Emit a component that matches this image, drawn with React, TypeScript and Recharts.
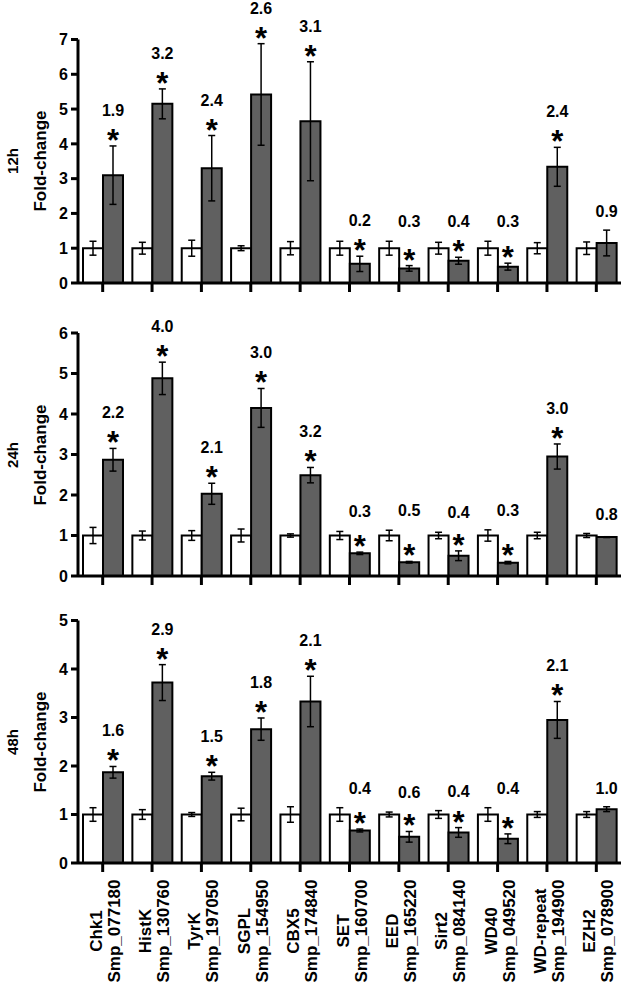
import { BarChart, Bar, XAxis, YAxis, ErrorBar, LabelList } from "recharts";

const FONT = "'Liberation Sans', Arial, Helvetica, sans-serif";

const genes = ["Chk1", "HistK", "TyrK", "SGPL", "CBX5", "SET", "EED", "Sirt2", "WD40", "WD-repeat", "EZH2"];
const geneIds = [
  "Smp_077180", "Smp_130760", "Smp_197050", "Smp_154950", "Smp_174840", "Smp_160700",
  "Smp_165220", "Smp_084140", "Smp_049520", "Smp_194900", "Smp_078900",
];
const starred = [true, true, true, true, true, true, true, true, true, true, false];
const control = [1, 1, 1, 1, 1, 1, 1, 1, 1, 1, 1];

// 12h
const ctrlErr12 = [0.2, 0.17, 0.23, 0.07, 0.19, 0.2, 0.2, 0.17, 0.2, 0.16, 0.18];
const treated12 = [3.1, 5.15, 3.3, 5.42, 4.65, 0.55, 0.42, 0.64, 0.47, 3.34, 1.15];
const treatedErr12 = [0.84, 0.43, 0.94, 1.46, 1.71, 0.22, 0.08, 0.1, 0.1, 0.56, 0.37];
const fold12 = ["1.9", "3.2", "2.4", "2.6", "3.1", "0.2", "0.3", "0.4", "0.3", "2.4", "0.9"];
const yTicks12 = [0, 1, 2, 3, 4, 5, 6, 7];

// 24h
const ctrlErr24 = [0.2, 0.11, 0.12, 0.16, 0.04, 0.1, 0.13, 0.08, 0.14, 0.08, 0.05];
const treated24 = [2.87, 4.88, 2.03, 4.15, 2.49, 0.56, 0.34, 0.5, 0.33, 2.95, 0.96];
const treatedErr24 = [0.28, 0.4, 0.26, 0.48, 0.19, 0.03, 0.02, 0.12, 0.03, 0.31, 0.01];
const fold24 = ["2.2", "4.0", "2.1", "3.0", "3.2", "0.3", "0.5", "0.4", "0.3", "3.0", "0.8"];
const yTicks24 = [0, 1, 2, 3, 4, 5, 6];

// 48h
const ctrlErr48 = [0.14, 0.1, 0.04, 0.13, 0.16, 0.14, 0.05, 0.08, 0.14, 0.06, 0.06];
const treated48 = [1.87, 3.72, 1.79, 2.76, 3.33, 0.67, 0.54, 0.63, 0.5, 2.95, 1.11];
const treatedErr48 = [0.12, 0.37, 0.08, 0.23, 0.52, 0.03, 0.11, 0.1, 0.1, 0.38, 0.05];
const fold48 = ["1.6", "2.9", "1.5", "1.8", "2.1", "0.4", "0.6", "0.4", "0.4", "2.1", "1.0"];
const yTicks48 = [0, 1, 2, 3, 4, 5];

interface Row {
  name: string;
  ctrl: number;
  ctrlErr: number;
  trt: number;
  trtErr: number;
  fold: string;
  star: boolean;
}

function makeRows(trt: number[], trtErr: number[], ctrlErr: number[], fold: string[]): Row[] {
  return genes.map((g, i) => ({
    name: g,
    ctrl: control[i],
    ctrlErr: ctrlErr[i],
    trt: trt[i],
    trtErr: trtErr[i],
    fold: fold[i],
    star: starred[i],
  }));
}

// fold-change number + asterisk above each treated bar, placed from the bar's own pixel scale
const noteRenderer = (rows: Row[]) => (props: any) => {
  const vb = props.viewBox ?? props;
  const { x, y, width, height } = vb;
  const r = rows.find((d) => d.name === props.value);
  if (!r || !height) return null;
  const k = height / r.trt;
  const base = y + height;
  const grayTop = base - (r.trt + r.trtErr) * k;
  const whiteTop = base - (r.ctrl + r.ctrlErr) * k;
  const cx = x + width / 2;
  let labelY: number;
  let starEl = null;
  if (r.star) {
    const starY = grayTop - 12;
    labelY = Math.min(starY - 24, whiteTop - 20);
    starEl = (
      <text x={cx} y={starY + 17} textAnchor="middle" fontSize={31} fontWeight="bold" fontFamily={FONT} fill="#000">
        *
      </text>
    );
  } else {
    labelY = Math.min(grayTop, whiteTop) - 19;
  }
  return (
    <g>
      {starEl}
      <text x={cx} y={labelY + 6} textAnchor="middle" fontSize={16} fontWeight="bold" fontFamily={FONT} fill="#000">
        {r.fold}
      </text>
    </g>
  );
};

const GeneTick = (props: any) => {
  const { x, y, payload } = props;
  const i = genes.indexOf(payload.value);
  const cy = y + 57;
  const common = { textAnchor: "middle" as const, fontSize: 17, fontWeight: "bold", fontFamily: FONT, fill: "#000" };
  return (
    <g>
      <text x={x - 1} y={cy} transform={`rotate(-90 ${x - 1} ${cy})`} {...common}>
        {genes[i]}
      </text>
      <text x={x + 17} y={cy} transform={`rotate(-90 ${x + 17} ${cy})`} {...common}>
        {geneIds[i]}
      </text>
    </g>
  );
};

const NoTick = () => <g />;

interface PanelProps {
  top: number;
  height: number;
  plotTop: number;
  axisHeight: number;
  yTicks: number[];
  rows: Row[];
  showNames: boolean;
}

function Panel({ top, height, plotTop, axisHeight, yTicks, rows, showNames }: PanelProps) {
  return (
    <div style={{ position: "absolute", left: 0, top }}>
      <BarChart
        width={630}
        height={height}
        data={rows}
        margin={{ top: plotTop, right: 9, left: 0, bottom: 0 }}
        barSize={20}
        barGap={0}
      >
        <XAxis
          dataKey="name"
          interval={0}
          height={axisHeight}
          tickSize={9}
          tickLine={{ stroke: "#000", strokeWidth: 3 }}
          axisLine={{ stroke: "#000", strokeWidth: 3 }}
          tick={showNames ? <GeneTick /> : <NoTick />}
        />
        <YAxis
          width={78}
          domain={[yTicks[0], yTicks[yTicks.length - 1]]}
          ticks={yTicks}
          interval={0}
          tickSize={7}
          tickMargin={3}
          tickLine={{ stroke: "#000", strokeWidth: 3 }}
          axisLine={{ stroke: "#000", strokeWidth: 3 }}
          tick={{ fill: "#000", fontSize: 16, fontWeight: "bold", fontFamily: FONT }}
        />
        <Bar dataKey="ctrl" fill="#ffffff" stroke="#000" strokeWidth={2} isAnimationActive={false}>
          <ErrorBar dataKey="ctrlErr" width={3.5} stroke="#000" strokeWidth={1.5} />
        </Bar>
        <Bar dataKey="trt" fill="#606060" stroke="#000" strokeWidth={2} isAnimationActive={false}>
          <ErrorBar dataKey="trtErr" width={3.5} stroke="#000" strokeWidth={1.5} />
          <LabelList dataKey="name" content={noteRenderer(rows)} />
        </Bar>
      </BarChart>
    </div>
  );
}

function Titles() {
  const items = [
    { t: "12h", cy: 161 },
    { t: "24h", cy: 455 },
    { t: "48h", cy: 742 },
  ];
  return (
    <svg width={630} height={986} style={{ position: "absolute", left: 0, top: 0, pointerEvents: "none" }}>
      {items.map((it) => (
        <g key={it.t}>
          <text
            x={18}
            y={it.cy}
            transform={`rotate(-90 18 ${it.cy})`}
            textAnchor="middle"
            fontSize={15}
            fontWeight="bold"
            fontFamily={FONT}
            fill="#000"
          >
            {it.t}
          </text>
          <text
            x={46}
            y={it.cy}
            transform={`rotate(-90 46 ${it.cy})`}
            textAnchor="middle"
            fontSize={17}
            fontWeight="bold"
            fontFamily={FONT}
            fill="#000"
          >
            Fold-change
          </text>
        </g>
      ))}
    </svg>
  );
}

export default function App() {
  const rows12 = makeRows(treated12, treatedErr12, ctrlErr12, fold12);
  const rows24 = makeRows(treated24, treatedErr24, ctrlErr24, fold24);
  const rows48 = makeRows(treated48, treatedErr48, ctrlErr48, fold48);
  return (
    <div style={{ position: "absolute", left: 0, top: 0, width: 630, height: 986, background: "#fff", overflow: "hidden" }}>
      <Panel top={0} height={300} plotTop={39.5} axisHeight={17} yTicks={yTicks12} rows={rows12} showNames={false} />
      <Panel top={300} height={300} plotTop={33} axisHeight={24} yTicks={yTicks24} rows={rows24} showNames={false} />
      <Panel top={600} height={386} plotTop={20.5} axisHeight={123} yTicks={yTicks48} rows={rows48} showNames={true} />
      <Titles />
    </div>
  );
}
